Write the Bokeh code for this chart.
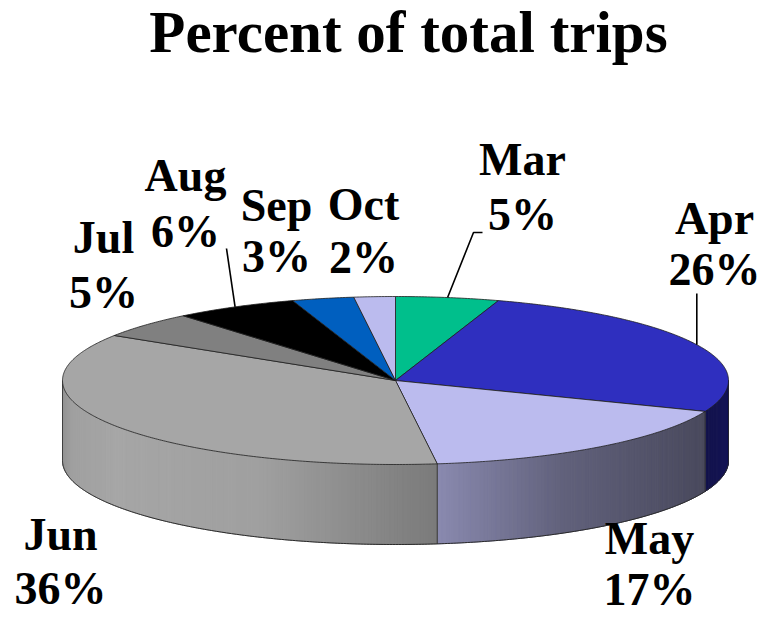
import numpy as np
from bokeh.plotting import figure
from bokeh.models import Range1d
from bokeh.embed import file_html
from bokeh.resources import INLINE
from bokeh.core.properties import value

# ---------------- data ----------------
months = ["Mar", "Apr", "May", "Jun", "Jul", "Aug", "Sep", "Oct"]
percents = [5, 26, 17, 36, 5, 6, 3, 2]
pct_labels = ["5%", "26%", "17%", "36%", "5%", "6%", "3%", "2%"]
colors = ["#00bf8c", "#2f2fbf", "#bbbbee", "#a6a6a6",
          "#808080", "#000000", "#005fbf", "#bbbbee"]
title_text = "Percent of total trips"

# ---------------- layout ----------------
W, H = 763, 621
CX, CY, RX, RY, DEPTH = 395.0, 380.0, 333.0, 84.0, 80.0
START_DEG = 90.0
FONT = "Liberation Serif"
LABEL_SIZE = "46px"
BASE_SHIFT = 18  # alphabetic-baseline correction
# label anchors: centre x, baseline of line 1, baseline of line 2
label_x = [522, 714, 649, 60, 103, 185, 276, 363]
label_y1 = [177, 236, 556, 552, 255, 193, 223, 222]
label_y2 = [232, 287, 607, 606, 310, 249, 274, 275]
# leader lines (end points after the one on the rim)
leaders = {"Mar": [(473, 232), (482, 232)], "Apr": [(None, 293)], "Aug": [(226, 248)]}
# side shading factor against relative horizontal position
shade_u = [0.0, 0.015, 0.08, 0.30, 0.56, 0.75, 0.965, 1.0]
shade_f = [0.88, 0.96, 1.0, 0.96, 0.74, 0.52, 0.39, 0.45]


def rim(t_deg):
    t = np.radians(t_deg)
    return CX + RX * np.cos(t), CY - RY * np.sin(t)


def shade(hex_color, f):
    h = hex_color.lstrip("#")
    rgb = [int(h[i:i + 2], 16) for i in (0, 2, 4)]
    rgb = [max(0, min(255, int(round(c * f)))) for c in rgb]
    return "#%02x%02x%02x" % tuple(rgb)


total = float(sum(percents))
cum = np.concatenate([[0.0], np.cumsum(percents)])
t_start = START_DEG - 360.0 * cum[:-1] / total
t_end = START_DEG - 360.0 * cum[1:] / total

p = figure(width=W, height=H, output_backend="svg", toolbar_location=None,
           x_range=Range1d(0, W), y_range=Range1d(H, 0),
           x_axis_type=None, y_axis_type=None, min_border=0,
           outline_line_color=None, background_fill_color="white",
           border_fill_color="white")
p.grid.visible = False

# ---------------- side walls (front half) ----------------
sx, sy, sc = [], [], []
edges = []
for i in range(len(months)):
    a0, a1 = t_end[i], t_start[i]  # a0 < a1
    for shift in (0.0, -360.0):
        lo = max(a0, -180.0 + shift)
        hi = min(a1, 0.0 + shift)
        if hi <= lo:
            continue
        n = max(2, int(np.ceil((hi - lo) / 0.75)))
        ts = np.linspace(lo, hi, n + 1)
        for k in range(n):
            x0, y0 = rim(ts[k])
            x1, y1 = rim(ts[k + 1])
            xm, _ = rim(0.5 * (ts[k] + ts[k + 1]))
            u = (xm - (CX - RX)) / (2 * RX)
            f = float(np.interp(u, shade_u, shade_f))
            sx.append([x0, x1, x1, x0])
            sy.append([y0, y1, y1 + DEPTH, y0 + DEPTH])
            sc.append(shade(colors[i], f))
        edges.extend([lo, hi])

p.patches(sx, sy, fill_color=sc, line_color=sc, line_width=1.0)

# bottom rim and vertical edges
tb = np.linspace(-180, 0, 361)
bx, by = rim(tb)
p.line(bx, by + DEPTH, line_color="#2a2a2a", line_width=1.0)
for e in sorted(set(np.round(edges, 6))):
    ex, ey = rim(e)
    p.line([ex, ex], [ey, ey + DEPTH], line_color="#2a2a2a", line_width=0.8)

# ---------------- top face ----------------
tx, ty = [], []
for i in range(len(months)):
    n = max(2, int(np.ceil((t_start[i] - t_end[i]) / 0.5)))
    ts = np.linspace(t_start[i], t_end[i], n + 1)
    xs, ys = rim(ts)
    tx.append([CX] + list(xs))
    ty.append([CY] + list(ys))
p.patches(tx, ty, fill_color=colors, line_color="#1e1e1e", line_width=0.8)

# ---------------- leader lines ----------------
for i, m in enumerate(months):
    if m not in leaders:
        continue
    mid = 0.5 * (t_start[i] + t_end[i])
    x0, y0 = rim(mid)
    lx, ly = [x0], [y0]
    for (ex, ey) in leaders[m]:
        lx.append(lx[-1] if ex is None else ex)
        ly.append(ey)
    p.line(lx, ly, line_color="black", line_width=1.6)

# ---------------- labels ----------------
p.text(x=label_x, y=[v - BASE_SHIFT for v in label_y1], text=months,
       text_font=value(FONT), text_font_style="bold", text_font_size=LABEL_SIZE,
       text_color="black", text_align="center", text_baseline="alphabetic")
p.text(x=label_x, y=[v - BASE_SHIFT for v in label_y2], text=pct_labels,
       text_font=value(FONT), text_font_style="bold", text_font_size=LABEL_SIZE,
       text_color="black", text_align="center", text_baseline="alphabetic")

# title
p.text(x=[408], y=[50 - 19], text=[title_text], text_font=value(FONT),
       text_font_style="bold", text_font_size="59px", text_color="black",
       text_align="center", text_baseline="alphabetic")

open("out.html", "w").write(file_html(p, INLINE))
